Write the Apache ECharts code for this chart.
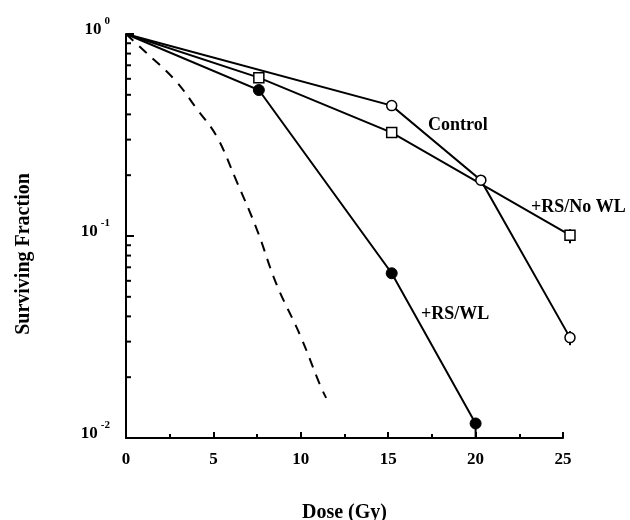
<!DOCTYPE html>
<html>
<head>
<meta charset="utf-8">
<script src="https://cdn.jsdelivr.net/npm/echarts@6/dist/echarts.min.js"></script>
<style>
  html, body { margin: 0; padding: 0; background: #fff; }
  #chart { width: 630px; height: 520px; }
</style>
</head>
<body>
<div id="chart"></div>
<script>
// data
const doseControl = [0, 15.2, 20.3, 25.4];
const sfControl = [1, 0.442, 0.189, 0.0314];
const errControl = [[1, 1], [0.425, 0.462], [0.18, 0.198], [0.0288, 0.0338]];

const doseNoWL = [0, 7.6, 15.2, 25.4];
const sfNoWL = [1, 0.608, 0.325, 0.101];
const errNoWL = [[1, 1], [0.6, 0.618], [0.32, 0.331], [0.092, 0.108]];

const doseWL = [0, 7.6, 15.2, 20.0];
const sfWL = [1, 0.528, 0.0654, 0.0118];
const errWL = [[1, 1], [0.52, 0.536], [0.063, 0.068], [0.0099, 0.0125]];

// dashed reference curve
const doseDashed = [0, 1.1, 2.8, 4.1, 5.2, 6.3, 7.5, 8.6, 10.0, 11.1, 11.45];
const sfDashed = [1, 0.817, 0.592, 0.42, 0.31, 0.189, 0.107, 0.058, 0.0317, 0.0183, 0.0158];

const xTicks = [0, 5, 10, 15, 20, 25];
const yMinorTicks = [0.02, 0.03, 0.04, 0.05, 0.06, 0.07, 0.08, 0.09,
                     0.2, 0.3, 0.4, 0.5, 0.6, 0.7, 0.8, 0.9];

const serif = 'Liberation Serif';

function pairs(xs, ys) {
  return xs.map((x, i) => [x, ys[i]]);
}
// markers: the shared start point (0 Gy) has none
function markers(xs, ys) {
  return pairs(xs, ys).filter(p => p[0] !== 0);
}

// connecting lines (lines series so that points past 25 Gy are not clipped)
function curve(xs, ys) {
  return {
    type: 'lines',
    coordinateSystem: 'cartesian2d',
    polyline: true,
    clip: false,
    silent: true,
    z: 2,
    lineStyle: { color: '#000', width: 2, opacity: 1 },
    data: [{ coords: pairs(xs, ys) }]
  };
}

function errorBars(xs, errs) {
  return {
    type: 'custom',
    silent: true,
    clip: false,
    z: 1,
    encode: { x: 0, y: [1, 2] },
    data: xs.map((x, i) => [x, errs[i][0], errs[i][1]]),
    renderItem(params, api) {
      const lo = api.coord([api.value(0), Math.max(api.value(1), 0.01)]);
      const hi = api.coord([api.value(0), api.value(2)]);
      return {
        type: 'line',
        shape: { x1: lo[0], y1: lo[1], x2: hi[0], y2: hi[1] },
        style: { stroke: '#000', lineWidth: 2 }
      };
    }
  };
}

const myChart = echarts.init(document.getElementById('chart'));

const option = {
  backgroundColor: '#fff',
  animation: false,
  grid: { left: 126, right: 67, top: 34, bottom: 82, containLabel: false, outerBoundsMode: 'none' },
  xAxis: {
    type: 'value',
    min: 0,
    max: 25,
    interval: 5,
    name: 'Dose (Gy)',
    nameLocation: 'middle',
    nameGap: 65,
    nameTextStyle: { fontFamily: serif, fontWeight: 'bold', fontSize: 20, color: '#000' },
    axisLine: { lineStyle: { color: '#000', width: 2 } },
    axisTick: { inside: true, length: 6, lineStyle: { color: '#000', width: 2 } },
    minorTick: { show: true, splitNumber: 2, length: 4, lineStyle: { color: '#000', width: 2 } },
    splitLine: { show: false },
    axisLabel: {
      margin: 13,
      fontFamily: serif, fontWeight: 'bold', fontSize: 17, color: '#000',
      formatter: v => (xTicks.includes(v) ? String(v) : '')
    }
  },
  yAxis: {
    type: 'log',
    logBase: 10,
    min: 0.01,
    max: 1,
    axisLine: { show: true, lineStyle: { color: '#000', width: 2 } },
    axisTick: { show: true, inside: true, length: 8, lineStyle: { color: '#000', width: 2 } },
    splitLine: { show: false },
    axisLabel: {
      margin: 16,
      verticalAlign: 'middle',
      padding: [0, 0, 8, 0],
      showMinLabel: true,
      showMaxLabel: true,
      formatter: v => '{b|10}{s|' + Math.round(Math.log10(v)) + '}',
      rich: {
        b: { fontFamily: serif, fontWeight: 'bold', fontSize: 17, lineHeight: 17, color: '#000' },
        s: { fontFamily: serif, fontWeight: 'bold', fontSize: 11, lineHeight: 11, color: '#000', padding: [0, 0, 17, 3] }
      }
    }
  },
  graphic: [
    {
      type: 'text',
      x: 24, y: 254,
      rotation: Math.PI / 2,
      style: {
        text: 'Surviving Fraction',
        font: 'bold 20px "Liberation Serif"',
        fill: '#000',
        align: 'center',
        verticalAlign: 'middle'
      }
    },
    {
      type: 'text', x: 428, y: 125,
      style: { text: 'Control', font: 'bold 18px "Liberation Serif"', fill: '#000', verticalAlign: 'middle' }
    },
    {
      type: 'text', x: 531, y: 207,
      style: { text: '+RS/No WL', font: 'bold 18px "Liberation Serif"', fill: '#000', verticalAlign: 'middle' }
    },
    {
      type: 'text', x: 421, y: 314,
      style: { text: '+RS/WL', font: 'bold 18px "Liberation Serif"', fill: '#000', verticalAlign: 'middle' }
    }
  ],
  series: [
    {
      // minor ticks of the log axis
      type: 'custom',
      silent: true,
      clip: false,
      data: yMinorTicks.map(v => [0, v]),
      renderItem(params, api) {
        const p = api.coord([0, api.value(1)]);
        return {
          type: 'line',
          shape: { x1: p[0], y1: p[1], x2: p[0] + 5, y2: p[1] },
          style: { stroke: '#000', lineWidth: 2 }
        };
      }
    },
    {
      name: 'dashed',
      type: 'line',
      symbol: 'none',
      smooth: 0.4,
      lineStyle: { color: '#000', width: 2, type: [10, 8] },
      data: pairs(doseDashed, sfDashed)
    },
    errorBars(doseControl, errControl),
    errorBars(doseNoWL, errNoWL),
    errorBars(doseWL, errWL),
    curve(doseControl, sfControl),
    curve(doseNoWL, sfNoWL),
    curve(doseWL, sfWL),
    {
      name: 'Control',
      type: 'scatter',
      clip: false,
      symbol: 'circle',
      symbolSize: 10,
      z: 3,
      itemStyle: { color: '#fff', borderColor: '#000', borderWidth: 1.5, opacity: 1 },
      data: markers(doseControl, sfControl)
    },
    {
      name: '+RS/No WL',
      type: 'scatter',
      clip: false,
      symbol: 'rect',
      symbolSize: 10,
      z: 3,
      itemStyle: { color: '#fff', borderColor: '#000', borderWidth: 1.5, opacity: 1 },
      data: markers(doseNoWL, sfNoWL)
    },
    {
      name: '+RS/WL',
      type: 'scatter',
      clip: false,
      symbol: 'circle',
      symbolSize: 11,
      z: 3,
      itemStyle: { color: '#000', borderColor: '#000', borderWidth: 1, opacity: 1 },
      data: markers(doseWL, sfWL)
    }
  ]
};

myChart.setOption(option);
</script>
</body>
</html>
